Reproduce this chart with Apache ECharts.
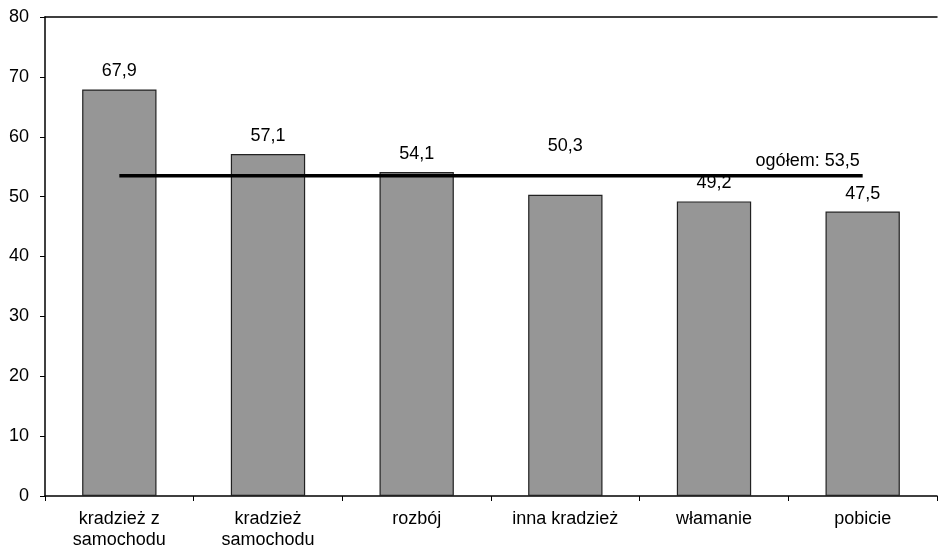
<!DOCTYPE html>
<html>
<head>
<meta charset="utf-8">
<script src="https://cdn.jsdelivr.net/npm/echarts@6/dist/echarts.min.js"></script>
<style>html,body{margin:0;padding:0;background:#fff}#c{width:938px;height:548px}</style>
</head>
<body>
<div id="c"></div>
<script>
const categories = ['kradzież z\nsamochodu', 'kradzież\nsamochodu', 'rozbój', 'inna kradzież', 'włamanie', 'pobicie'];
const values = [67.9, 57.1, 54.1, 50.3, 49.2, 47.5];
const overall = 53.5;
const overallLabel = 'ogółem: 53,5';
const yTicks = [0, 10, 20, 30, 40, 50, 60, 70, 80];

const font = 'Liberation Sans, Arial, sans-serif';
const fs = 18;
const fmt = v => String(v).replace('.', ',');

const chart = echarts.init(document.getElementById('c'));
const barData = values.map((v, i) => {
  const item = { value: v };
  if (i === 3) item.label = { offset: [0, -31] };
  return item;
});
const lineData = categories.map((c, i) => {
  const item = { value: overall };
  if (i === categories.length - 1) {
    item.label = { show: true, position: 'top', align: 'right', distance: 6, offset: [-3, 0],
      formatter: overallLabel, color: '#000', fontSize: fs, fontFamily: font };
  }
  return item;
});

chart.setOption({
  animation: false,
  grid: { left: 45, right: 1, top: 17, bottom: 52, outerBoundsMode: 'none', containLabel: false },
  xAxis: [{
    type: 'category', data: categories, boundaryGap: true,
    axisLine: { lineStyle: { color: '#000', width: 1.5 } },
    axisTick: { show: true, length: 5, lineStyle: { color: '#000' } },
    axisLabel: { color: '#000', fontSize: fs, fontFamily: font, margin: 13, lineHeight: 21, interval: 0 }
  }, {
    type: 'category', data: categories, position: 'top',
    axisLine: { show: true, lineStyle: { color: '#000', width: 1.5 } },
    axisTick: { show: false }, axisLabel: { show: false }
  }],
  yAxis: {
    type: 'value', min: 0, max: 80, interval: 10,
    axisLine: { show: true, lineStyle: { color: '#000', width: 1.5 } },
    axisTick: { show: true, length: 5, lineStyle: { color: '#000' } },
    splitLine: { show: false },
    axisLabel: { color: '#000', fontSize: fs, fontFamily: font, margin: 16,
      formatter: v => yTicks.includes(v) ? String(v) : '' }
  },
  series: [{
    type: 'bar', data: barData, barWidth: '50%',
    itemStyle: { color: '#969696', borderColor: '#222', borderWidth: 1.2 },
    label: { show: true, position: 'top', distance: 9, color: '#000', fontSize: fs, fontFamily: font,
      formatter: p => fmt(p.value) }
  }, {
    type: 'line', data: lineData, symbol: 'circle', symbolSize: 0, showSymbol: true, z: 5,
    lineStyle: { color: '#000', width: 3.5 },
    itemStyle: { color: '#000' },
    label: { show: false }
  }]
});
</script>
</body>
</html>
